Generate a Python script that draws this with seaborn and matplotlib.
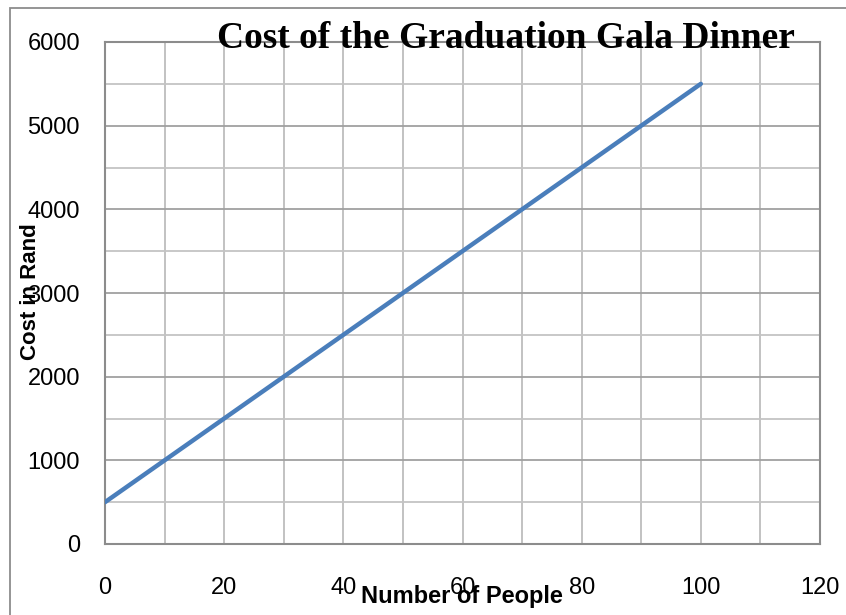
import matplotlib
matplotlib.use("Agg")
import matplotlib.pyplot as plt
import seaborn as sns
import pandas as pd
import numpy as np
from matplotlib.patches import Rectangle
from matplotlib.ticker import MultipleLocator

people = [0, 100]
cost = [500, 5500]
x_ticks = [0, 20, 40, 60, 80, 100, 120]
y_ticks = [0, 1000, 2000, 3000, 4000, 5000, 6000]

df = pd.DataFrame({"people": people, "cost": cost})

sns.set_theme(style="white")
plt.rcParams['font.family'] = ['Liberation Sans', 'DejaVu Sans']
plt.rcParams['text.color'] = 'black'

fig = plt.figure(figsize=(8.46, 6.15), dpi=100)
ax = fig.add_axes([105/846, 1-544/615, (820-105)/846, (544-42)/615])

# figure frame
fig.patches.append(Rectangle((10/846, -0.1), 1.2, 1 - 8/615 + 0.1, transform=fig.transFigure,
                             fill=False, edgecolor='#8c8c8c', linewidth=1.3, zorder=0))

ax.set_xlim(0, 120)
ax.set_ylim(0, 6000)
ax.set_xticks(x_ticks)
ax.set_yticks(y_ticks)
ax.xaxis.set_minor_locator(MultipleLocator(10))
ax.yaxis.set_minor_locator(MultipleLocator(500))

ax.grid(False)
ax.xaxis.grid(True, which='both', color='#bdbdbd', linewidth=1.3)
ax.yaxis.grid(True, which='major', color='#a0a0a0', linewidth=1.3)
ax.yaxis.grid(True, which='minor', color='#c4c4c4', linewidth=1.3)
ax.set_axisbelow(True)

sns.lineplot(data=df, x="people", y="cost", ax=ax, color='#4a7ebb', linewidth=3.2, zorder=3)

for s in ax.spines.values():
    s.set_color('#8c8c8c')
    s.set_linewidth(1.5)

ax.tick_params(axis='both', which='both', length=0, labelsize=17, colors='black')
ax.tick_params(axis='x', pad=23.5)
ax.tick_params(axis='y', pad=18)

ax.set_xlabel("")
ax.set_ylabel("")
fig.text(462/846, 1-597/615, "Number of People", ha='center', va='center',
         fontsize=17, fontweight='bold', color='black')
fig.text(31/846, 1-292/615, "Cost in Rand", ha='center', va='center', rotation=90,
         fontsize=16, fontweight='bold', color='black')
fig.text(506/846, 1-38/615, "Cost of the Graduation Gala Dinner", ha='center', va='center',
         fontsize=27, fontweight='bold', color='black',
         family=['Liberation Serif', 'DejaVu Serif'])

fig.savefig("out.png", dpi=100)
